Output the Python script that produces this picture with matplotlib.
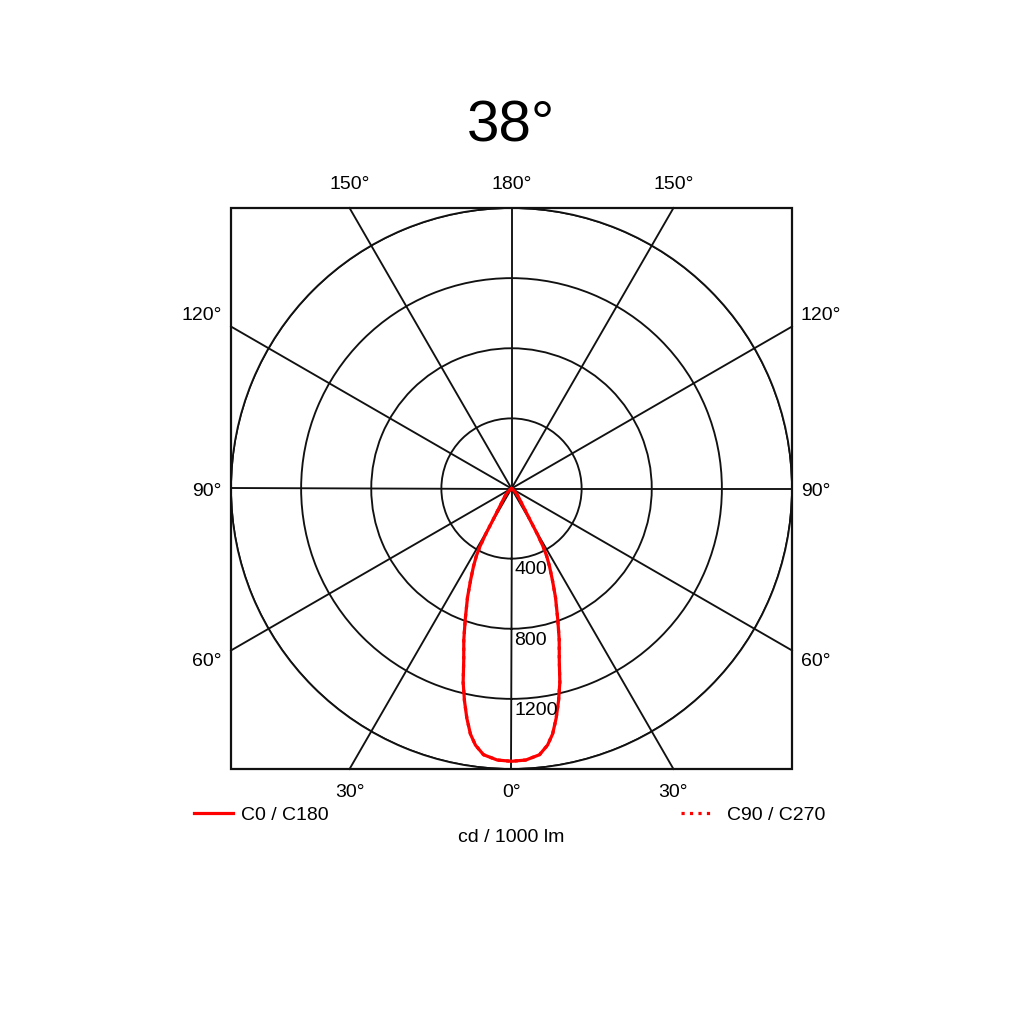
import numpy as np
import matplotlib
matplotlib.use("Agg")
import matplotlib.pyplot as plt
from matplotlib.patches import Rectangle
from matplotlib.lines import Line2D

plt.rcParams['font.family'] = ['Liberation Sans', 'DejaVu Sans']

title = "38°"
unit_label = "cd / 1000 lm"
series_names = ["C0 / C180", "C90 / C270"]

# gamma angles (deg) and intensities (cd/1000 lm), symmetric beam
gamma = [0, 3, 6, 8, 9.5, 11, 12.5, 14, 15.5, 17.5, 19.5, 22, 24, 26, 27.5, 28.5,
         29.5, 30.5, 32, 35, 40, 45, 50, 55, 60, 90]
c0_c180 = [1556, 1551, 1527, 1478, 1420, 1335, 1240, 1140, 1020, 905, 790, 670,
           575, 495, 435, 380, 300, 210, 150, 95, 60, 35, 12, 4, 0, 0]
c90_c270 = [1556, 1551, 1527, 1478, 1420, 1335, 1240, 1140, 1020, 905, 790, 670,
            575, 495, 435, 380, 300, 210, 150, 95, 60, 35, 12, 4, 0, 0]

r_ticks = [400, 800, 1200, 1600]
r_labels = ["400", "800", "1200"]
angle_grid = list(range(0, 360, 30))
top_labels = ["150°", "180°", "150°"]
side_labels = ["120°", "90°", "60°"]
bottom_labels = ["30°", "0°", "30°"]

fig = plt.figure(figsize=(10.24, 10.24), dpi=100)
ax = fig.add_axes([231/1024, 1 - 769/1024, 561/1024, 561/1024], projection='polar')
ax.set_theta_zero_location('S')
ax.set_ylim(0, r_ticks[-1])
ax.set_yticks(r_ticks)
ax.set_yticklabels([])
ax.set_xticks(np.deg2rad(angle_grid))
ax.set_xticklabels([])
ax.xaxis.grid(False)
ax.yaxis.grid(True, color='#111111', lw=1.35)
ax.spines['polar'].set_color('#111111')
ax.spines['polar'].set_linewidth(1.35)

rmax = r_ticks[-1]
for a in angle_grid:
    phi = np.deg2rad(a)
    reach = rmax / max(abs(np.cos(phi)), abs(np.sin(phi)))
    ax.plot([phi, phi], [0, reach], color='#111111', lw=1.35, clip_on=False, zorder=2)

ax.add_patch(Rectangle((0, 0), 1, 1, transform=ax.transAxes, fill=False,
                       edgecolor='#111111', lw=1.6, clip_on=False, zorder=5))

def full_curve(vals):
    g = np.array(gamma, dtype=float)
    v = np.array(vals, dtype=float)
    th = np.concatenate([-g[::-1], g[1:]])
    rr = np.concatenate([v[::-1], v[1:]])
    return np.deg2rad(th), rr

th, rr = full_curve(c0_c180)
ax.plot(th, rr, color='#ff0000', lw=2.3, zorder=6, solid_joinstyle='round')
th2, rr2 = full_curve(c90_c270)
ax.plot(th2, rr2, color='#ff0000', lw=2.3, ls=':', zorder=7)

for r, lab in zip(r_ticks, r_labels):
    ax.annotate(lab, xy=(0, r), xytext=(2, -2), textcoords='offset points',
                ha='left', va='top', fontsize=14, zorder=8)

t = np.tan(np.deg2rad(30)) / 2
fs = 14
for x, lab in zip([0.5 - t, 0.5, 0.5 + t], top_labels):
    ax.text(x, 1.0415, lab, transform=ax.transAxes, ha='center', va='center', fontsize=fs)
for x, lab in zip([0.5 - t, 0.5, 0.5 + t], bottom_labels):
    ax.text(x, -0.041, lab, transform=ax.transAxes, ha='center', va='center', fontsize=fs)
for y, lab in zip([0.808, 0.494, 0.1925], side_labels):
    ax.text(-0.0166, y, lab, transform=ax.transAxes, ha='right', va='center', fontsize=fs)
    ax.text(1.016, y, lab, transform=ax.transAxes, ha='left', va='center', fontsize=fs)

fig.text(511/1024, 1 - 127/1024, title, ha='center', va='center', fontsize=42)
fig.text(511/1024, 1 - 837/1024, unit_label, ha='center', va='center', fontsize=14)

h1 = Line2D([], [], color='#ff0000', lw=2.3)
h2 = Line2D([], [], color='#ff0000', lw=2.3, ls=':')
fig.legend([h1], [series_names[0]], loc='center left',
           bbox_to_anchor=(194/1024, 1 - 815/1024), frameon=False,
           fontsize=14, handlelength=2.0, handletextpad=0.4, borderpad=0, borderaxespad=0)
fig.legend([h2], [series_names[1]], loc='center left',
           bbox_to_anchor=(681/1024, 1 - 815/1024), frameon=False,
           fontsize=14, handlelength=1.6, handletextpad=0.75, borderpad=0, borderaxespad=0)

fig.savefig('out.png', dpi=100, facecolor='white')
